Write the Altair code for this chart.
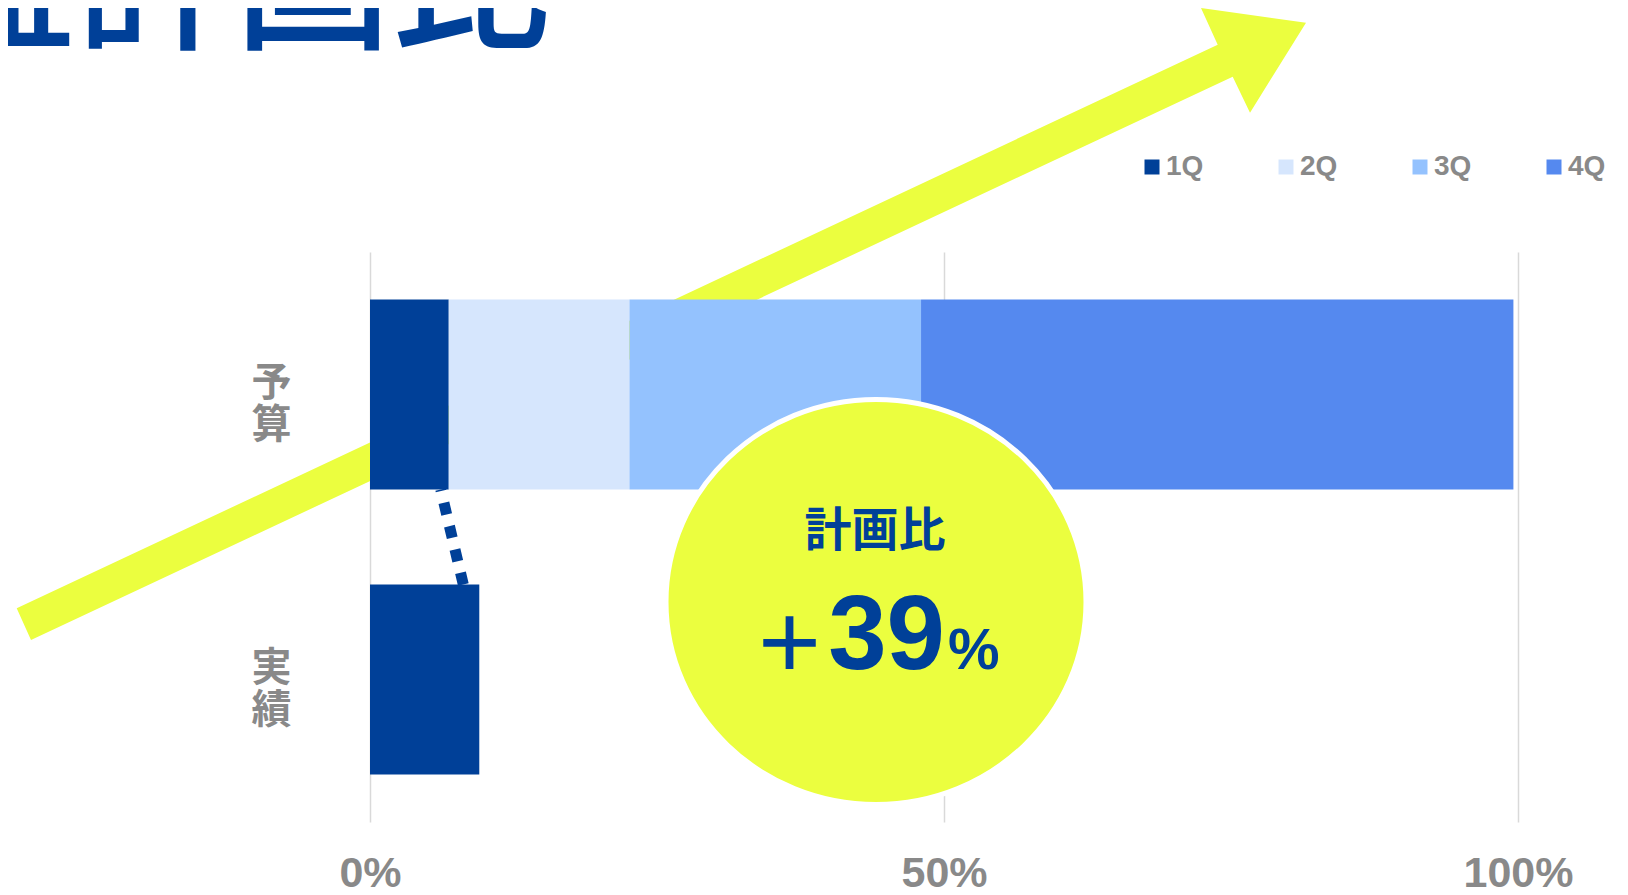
import altair as alt
import pandas as pd

# ---------------- data ----------------
categories = ["予算", "実績"]
quarters = ["1Q", "2Q", "3Q", "4Q"]
quarter_colors = ["#004098", "#D6E6FD", "#94C2FE", "#5589EF"]
plan_values = [6.86, 15.74, 25.40, 51.60]      # % of annual plan, per quarter
actual_values = [9.52]                          # actual, 1Q only
x_ticks = [0, 50, 100]
title_text = "営業利益計画比"
badge_title = "計画比"
badge_sign = "+"
badge_value = "39"
badge_unit = "%"

NAVY = "#004098"
YELLOW = "#EBFE3F"
GRAY = "#898989"

rows = []
for i, v in enumerate(plan_values):
    rows.append({"cat": categories[0], "q": quarters[i], "qi": i, "v": v})
for i, v in enumerate(actual_values):
    rows.append({"cat": categories[1], "q": quarters[i], "qi": i, "v": v})
bars_df = pd.DataFrame(rows)

# connector drawn from the actual bar up to the plan bar
conn_df = pd.DataFrame({
    "from_cat": [categories[1]], "to_cat": [categories[0]],
    "from_v": [actual_values[0]], "to_v": [plan_values[0]],
})

x_scale = alt.Scale(domain=[0, 100], nice=False)
y_scale = alt.Scale(domain=categories, paddingInner=1/3, paddingOuter=1/6)

x_axis = alt.Axis(
    values=x_ticks, labelExpr="datum.value + '%'", title=None,
    domain=False, ticks=False, grid=True, gridColor="#D9D9D9", gridWidth=1.5,
    labelFont="Liberation Sans", labelFontWeight="bold", labelFontSize=43,
    labelColor=GRAY, labelPadding=64, labelBaseline="alphabetic",
    labelFlush=False, labelOverlap=False,
)
y_axis = alt.Axis(
    title=None, domain=False, ticks=False, grid=False,
    labelExpr="split(datum.label, '')",
    labelFont="Noto Sans CJK JP", labelFontWeight="bold", labelFontSize=40,
    labelLineHeight=42, labelColor=GRAY, labelAlign="center",
    labelBaseline="middle", labelPadding=99, labelOffset=-11,
)

# ---------------- decorative arrow (behind bars) ----------------
arrow_path = ("M -353.3 356.3 L 847.7 -207.3 L 831 -244 L 936 -229.3 "
              "L 880 -139.3 L 862.7 -175.3 L -339 388 Z")
arrow = alt.Chart(pd.DataFrame({"a": [1]})).mark_point(
    shape=arrow_path, size=4, filled=True, fill=YELLOW, opacity=1,
    strokeWidth=0,
).encode(x=alt.value(0), y=alt.value(0))

# ---------------- bars ----------------
bars = alt.Chart(bars_df).mark_bar(opacity=1).encode(
    x=alt.X("v:Q", stack="zero", scale=x_scale, axis=x_axis),
    y=alt.Y("cat:N", scale=y_scale, axis=y_axis, sort=categories),
    color=alt.Color(
        "q:N",
        scale=alt.Scale(domain=quarters, range=quarter_colors),
        legend=alt.Legend(
            title=None, orient="none", legendX=768, legendY=-99,
            direction="horizontal", symbolType="square", symbolSize=225,
            symbolStrokeWidth=0, symbolOpacity=1, columnPadding=68,
            labelOffset=0, labelFont="Liberation Sans",
            labelFontWeight="bold", labelFontSize=28, labelColor=GRAY,
            padding=0,
        ),
    ),
    order=alt.Order("qi:Q"),
)

# ---------------- dotted connector ----------------
connector = alt.Chart(conn_df).mark_rule(
    color=NAVY, strokeWidth=11, strokeDash=[12, 12], strokeCap="butt",
    xOffset=-16, x2Offset=-8,
).encode(
    x=alt.X("from_v:Q", scale=x_scale),
    x2=alt.X2("to_v:Q"),
    y=alt.Y("from_cat:N", scale=y_scale, bandPosition=0),
    y2=alt.Y2("to_cat:N", bandPosition=1),
)

# ---------------- badge (slightly wide ellipse, white ring) ----------------
ellipse_path = "M -210 0 A 210 202.5 0 1 0 210 0 A 210 202.5 0 1 0 -210 0 Z"
circle = alt.Chart(pd.DataFrame({"a": [1]})).mark_point(
    shape=ellipse_path, size=4, filled=True, fill=YELLOW, opacity=1,
    stroke="white", strokeWidth=5,
).encode(x=alt.value(506), y=alt.value(350))

badge_t = alt.Chart(pd.DataFrame({"t": [badge_title]})).mark_text(
    font="Noto Sans CJK JP", fontWeight="bold", fontSize=47, color=NAVY,
    align="center", baseline="middle",
).encode(text="t:N", x=alt.value(505), y=alt.value(280))

badge_s = alt.Chart(pd.DataFrame({"t": [badge_sign]})).mark_text(
    font="Liberation Sans", fontWeight="normal", fontSize=108, color=NAVY,
    align="right", baseline="alphabetic",
).encode(text="t:N", x=alt.value(451), y=alt.value(426))

badge_v = alt.Chart(pd.DataFrame({"t": [badge_value]})).mark_text(
    font="Liberation Sans", fontWeight="bold", fontSize=105, color=NAVY,
    align="right", baseline="alphabetic",
).encode(text="t:N", x=alt.value(575), y=alt.value(417))

badge_u = alt.Chart(pd.DataFrame({"t": [badge_unit]})).mark_text(
    font="Liberation Sans", fontWeight="bold", fontSize=58, color=NAVY,
    align="left", baseline="alphabetic",
).encode(text="t:N", x=alt.value(578), y=alt.value(417))

# ---------------- large (cut-off) title ----------------
title = alt.Chart(pd.DataFrame({"t": [title_text]})).mark_text(
    font="Noto Sans CJK JP", fontWeight=500, fontSize=158, color=NAVY,
    align="right", baseline="alphabetic",
).encode(text="t:N", x=alt.value(180), y=alt.value(-215))

chart = alt.layer(
    arrow, bars, connector, circle, badge_t, badge_s, badge_v, badge_u, title
).properties(
    width=1148, height=570,
    padding={"left": 362, "top": 244, "right": 102, "bottom": 73},
    autosize=alt.AutoSizeParams(type="none"),
    background="white",
).configure_view(stroke=None)

chart.save("out.html", embed_options={"renderer": "svg", "actions": False})
